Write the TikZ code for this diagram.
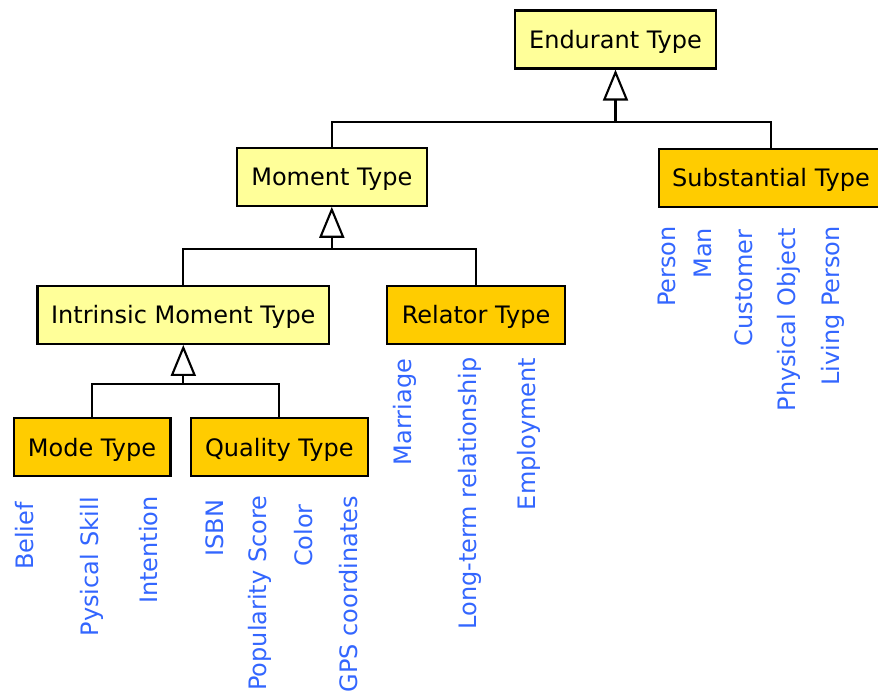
\documentclass[tikz,border=0pt]{standalone}
\usepackage{fontspec}
\setmainfont{DejaVu Sans}
\usetikzlibrary{arrows.meta}
\definecolor{lyel}{HTML}{FFFF99}
\definecolor{org}{HTML}{FFCC00}
\definecolor{lbl}{HTML}{3366FF}
\tikzset{
  box/.style={draw=black, line width=2.2pt, inner sep=0pt, minimum height=58pt,
    text height=17.5pt, text depth=0pt,
    font=\fontsize{24}{29}\selectfont},
  abstractbox/.style={box, fill=lyel},
  concretebox/.style={box, fill=org},
  conn/.style={draw=black, line width=2.1pt},
  gen/.style={conn, -{Triangle[open, length=31pt 0 0, width=25pt 0 0, fill=white]}},
  lab/.style={text=lbl, rotate=90, anchor=base east, inner sep=0pt,
    font=\fontsize{24}{29}\selectfont},
}
\begin{document}
\begin{tikzpicture}[x=1pt,y=-1pt]
\useasboundingbox (0,0) rectangle (878,692);

% classes
\node[abstractbox, minimum width=201pt] (end) at (615.5,39.5) {Endurant Type};
\node[abstractbox, minimum width=190pt] (mom) at (331.8,176.7) {Moment Type};
\node[concretebox, minimum width=224pt] (sub) at (771,177.7) {Substantial Type};
\node[abstractbox, minimum width=291.5pt] (intr) at (183.3,314.8) {Intrinsic Moment Type};
\node[concretebox, minimum width=178pt] (rel) at (476,315) {Relator Type};
\node[concretebox, minimum width=156.8pt] (mode) at (92,447.3) {Mode Type};
\node[concretebox, minimum width=176.8pt] (qual) at (279.3,447.3) {Quality Type};

% junctions
\coordinate (j1) at (615.5,122);
\coordinate (j2) at (331.8,249.3);
\coordinate (j3) at (183.3,384);

% generalizations
\draw[conn] (mom.north) |- (j1) -| (sub.north);
\draw[gen] (j1) -- (end.south);
\draw[conn] (intr.north) |- (j2) -| (rel.north);
\draw[gen] (j2) -- (mom.south);
\draw[conn] (mode.north) |- (j3) -| (qual.north);
\draw[gen] (j3) -- (intr.south);

% instances
\node[lab] (l1) at (33.3,502) {Belief};
\node[lab] (l2) at (98,497) {Pysical Skill};
\node[lab] (l3) at (157.3,496) {Intention};
\node[lab] (l4) at (223.3,499.4) {ISBN};
\node[lab] (l5) at (266,495.4) {Popularity Score};
\node[lab] (l6) at (312.7,504) {Color};
\node[lab] (l7) at (357.7,495.6) {GPS coordinates};
\node[lab] (l8) at (411,358.7) {Marriage};
\node[lab] (l9) at (476.7,357) {Long-term relationship};
\node[lab] (l10) at (535.7,357.8) {Employment};
\node[lab] (l11) at (675,226) {Person};
\node[lab] (l12) at (711,227.7) {Man};
\node[lab] (l13) at (752.7,229.5) {Customer};
\node[lab] (l14) at (795,227.8) {Physical Object};
\node[lab] (l15) at (839.3,226) {Living Person};
\end{tikzpicture}
\end{document}
